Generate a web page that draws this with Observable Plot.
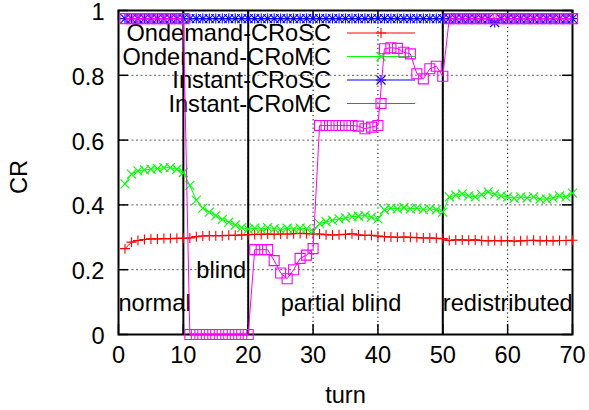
<!DOCTYPE html>
<html><head><meta charset="utf-8">
<script src="https://cdn.jsdelivr.net/npm/d3@7"></script>
<script src="https://cdn.jsdelivr.net/npm/@observablehq/plot@0.6"></script>
<style>html,body{margin:0;padding:0;background:#fff;} svg{display:block;}</style>
</head><body><div id="chart"></div>
<script>
// ---- data ----
const turns = d3.range(1, 71);
const ondemandCRoSC = [
  0.265,0.285,0.290,0.293,0.295,0.295,0.296,0.296,0.297,0.297,
  0.298,0.302,0.304,0.305,0.305,0.305,0.306,0.306,0.307,0.308,
  0.309,0.309,0.310,0.309,0.310,0.310,0.311,0.312,0.311,0.310,
  0.310,0.308,0.307,0.308,0.309,0.311,0.307,0.306,0.306,0.304,
  0.302,0.301,0.300,0.301,0.300,0.299,0.298,0.298,0.297,0.296,
  0.290,0.292,0.292,0.291,0.292,0.290,0.289,0.290,0.289,0.290,
  0.288,0.289,0.290,0.291,0.289,0.290,0.289,0.290,0.290,0.291];
const ondemandCRoMC = [
  0.465,0.495,0.505,0.508,0.510,0.512,0.515,0.515,0.510,0.500,
  0.460,0.415,0.390,0.378,0.367,0.355,0.347,0.338,0.330,0.325,
  0.328,0.325,0.330,0.327,0.324,0.328,0.325,0.328,0.327,0.318,
  0.342,0.348,0.352,0.357,0.360,0.364,0.365,0.368,0.362,0.357,
  0.385,0.390,0.388,0.392,0.388,0.390,0.386,0.388,0.385,0.378,
  0.425,0.430,0.434,0.428,0.425,0.432,0.440,0.433,0.428,0.425,
  0.420,0.425,0.422,0.425,0.418,0.418,0.422,0.428,0.425,0.436];
const instantCRoSC = [
  0.975,0.975,0.975,0.975,0.975,0.975,0.975,0.975,0.975,0.975,
  0.975,0.975,0.975,0.975,0.975,0.975,0.975,0.975,0.975,0.975,
  0.975,0.975,0.975,0.975,0.975,0.975,0.975,0.975,0.975,0.975,
  0.975,0.975,0.975,0.975,0.975,0.975,0.975,0.975,0.975,0.975,
  0.975,0.975,0.975,0.975,0.975,0.975,0.975,0.975,0.975,0.975,
  0.975,0.975,0.975,0.975,0.975,0.975,0.975,0.963,0.975,0.975,
  0.975,0.975,0.975,0.975,0.975,0.975,0.975,0.975,0.975,0.975];
const instantCRoMC = [
  0.975,0.975,0.975,0.975,0.975,0.975,0.975,0.975,0.975,0.975,
  0,0,0,0,0,0,0,0,0,0,
  0.262,0.262,0.262,0.228,0.190,0.172,0.200,0.235,0.245,0.265,
  0.645,0.645,0.645,0.645,0.645,0.645,0.643,0.635,0.640,0.645,
  0.882,0.885,0.883,0.871,0.866,0.805,0.789,0.820,0.828,0.797,
  0.975,0.975,0.975,0.975,0.975,0.975,0.975,0.975,0.975,0.975,
  0.975,0.975,0.975,0.975,0.975,0.975,0.975,0.975,0.975,0.975];
const seriesNames = ["Ondemand-CRoSC", "Ondemand-CRoMC", "Instant-CRoSC", "Instant-CRoMC"];
const seriesColors = ["#ff0000", "#00ff00", "#0000ff", "#ff00ff"];
const xTicks = [0, 10, 20, 30, 40, 50, 60, 70];
const xTickLabels = ["0", "10", "20", "30", "40", "50", "60", "70"];
const yTicks = [0, 0.2, 0.4, 0.6, 0.8, 1];
const yTickLabels = ["0", "0.2", "0.4", "0.6", "0.8", "1"];
const phaseBounds = [10, 20, 50];
const phaseNames = ["normal", "blind", "partial blind", "redistributed"];
const phaseStart = [0, 12, 25, 50];
const phaseLabelY = [0.1, 0.2, 0.1, 0.1];
const xLabel = "turn";
const yLabel = "CR";

// ---- layout ----
const W = 589, H = 410, ML = 118, MR = 17, MT = 10, MB = 76;
const innerW = W - ML - MR, innerH = H - MT - MB;
const FONT = "'Liberation Sans', Arial, Helvetica, sans-serif";
const FS = 23.6;
const TICK = 10;

// symbols (gnuplot-like point types)
const symPlus = {draw(c) { const r = 5; c.moveTo(-r, 0); c.lineTo(r, 0); c.moveTo(0, -r); c.lineTo(0, r); }};
const symTimes = {draw(c) { const r = 4.5; c.moveTo(-r, -r); c.lineTo(r, r); c.moveTo(-r, r); c.lineTo(r, -r); }};
const symSquare = {draw(c) { const r = 5; c.moveTo(-r, -r); c.lineTo(r, -r); c.lineTo(r, r); c.lineTo(-r, r); c.closePath(); }};
const seriesSymbols = [[symPlus], [symTimes], [symPlus, symTimes], [symSquare]];
const seriesValues = [ondemandCRoSC, ondemandCRoMC, instantCRoSC, instantCRoMC];
const seriesData = seriesValues.map(vals => turns.map((t, i) => ({turn: t, cr: vals[i]})));

const dataMarks = [];
seriesData.forEach((rows, s) => {
  dataMarks.push(Plot.line(rows, {x: "turn", y: "cr", stroke: seriesColors[s], strokeWidth: 1}));
  seriesSymbols[s].forEach(sym => {
    dataMarks.push(Plot.dot(rows, {x: "turn", y: "cr", symbol: sym, r: 5, stroke: seriesColors[s], fill: "none", strokeWidth: 1.1}));
  });
});

const plot = Plot.plot({
  width: W, height: H,
  marginLeft: ML, marginRight: MR, marginTop: MT, marginBottom: MB,
  style: {fontFamily: FONT, fontSize: FS + "px", background: "#fff", color: "#000"},
  x: {domain: [0, 70]},
  y: {domain: [0, 1]},
  marks: [
    Plot.ruleY(yTicks.slice(1, -1), {y: d => d, stroke: "#808080", strokeDasharray: "2,2.5", strokeWidth: 1.2}),
    Plot.ruleX(xTicks.slice(1, -1), {x: d => d, stroke: "#000", strokeDasharray: "1.2,3", strokeWidth: 1}),
    Plot.tickY(yTicks, {y: d => d, insetRight: innerW - TICK, strokeWidth: 1.5}),
    Plot.tickY(yTicks, {y: d => d, insetLeft: innerW - TICK, strokeWidth: 1.5}),
    Plot.tickX(xTicks, {x: d => d, insetTop: innerH - TICK, strokeWidth: 1.5}),
    Plot.tickX(xTicks, {x: d => d, insetBottom: innerH - TICK, strokeWidth: 1.5}),
    Plot.ruleX(phaseBounds, {x: d => d, stroke: "#000", strokeWidth: 2}),
    Plot.frame({stroke: "#000", strokeWidth: 2}),
    Plot.axisY({ticks: yTicks, tickSize: 0, tickPadding: 14, dy: 2, fontSize: FS, label: null,
      tickFormat: d => yTickLabels[yTicks.indexOf(d)]}),
    Plot.axisX({ticks: xTicks, tickSize: 0, tickPadding: 12, fontSize: FS, label: null,
      tickFormat: d => xTickLabels[xTicks.indexOf(d)]}),
    Plot.text(phaseNames.map((n, i) => i), {x: i => phaseStart[i], y: i => phaseLabelY[i], text: i => phaseNames[i],
      textAnchor: "start", lineAnchor: "middle", dx: 0, dy: 1, fontSize: FS, fill: "#000"}),
    Plot.text([yLabel], {frameAnchor: "left", dx: -99, dy: 4.5, rotate: -90, textAnchor: "middle", lineAnchor: "middle", fontSize: FS, fill: "#000"}),
    Plot.text([xLabel], {frameAnchor: "bottom", dy: 61, textAnchor: "middle", lineAnchor: "middle", fontSize: FS, fill: "#000"}),
    ...dataMarks
  ]
});

// ---- legend (gnuplot key, inside top-left) ----
const LEG = {textRight: 331, x1: 347, x2: 415, y0: 33, step: 23.5};
const lg = d3.create("svg:g").attr("font-family", FONT).attr("font-size", FS);
seriesNames.forEach((name, s) => {
  const y = LEG.y0 + s * LEG.step;
  lg.append("text").attr("x", LEG.textRight).attr("y", y).attr("dy", "0.35em")
    .attr("text-anchor", "end").attr("fill", "#000").text(name);
  lg.append("line").attr("x1", LEG.x1).attr("x2", LEG.x2).attr("y1", y).attr("y2", y)
    .attr("stroke", seriesColors[s]).attr("stroke-width", 1);
  seriesSymbols[s].forEach(sym => {
    lg.append("path").attr("d", d3.symbol(sym, 25)())
      .attr("transform", `translate(${(LEG.x1 + LEG.x2) / 2},${y})`)
      .attr("fill", "none").attr("stroke", seriesColors[s]).attr("stroke-width", 1.1);
  });
});
const firstLine = plot.querySelector('g[aria-label="line"]');
if (firstLine) plot.insertBefore(lg.node(), firstLine); else plot.appendChild(lg.node());

document.getElementById("chart").appendChild(plot);
</script>
</body></html>
